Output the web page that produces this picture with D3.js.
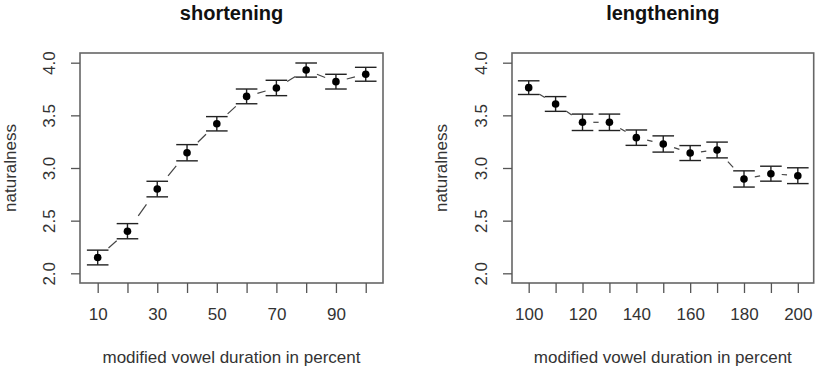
<!DOCTYPE html>
<html>
<head>
<meta charset="utf-8">
<script src="https://cdn.jsdelivr.net/npm/d3@7"></script>
<style>
  body { margin: 0; background: #fff; }
  text { font-family: "Liberation Sans", Arial, sans-serif; }
</style>
</head>
<body>
<div id="chart"></div>
<script>
// shortening panel
const shortX = [10, 20, 30, 40, 50, 60, 70, 80, 90, 100];
const shortMean = [2.15, 2.40, 2.80, 3.145, 3.42, 3.68, 3.76, 3.93, 3.82, 3.89];
const shortErr = [0.07, 0.072, 0.074, 0.077, 0.068, 0.07, 0.073, 0.067, 0.07, 0.066];
const shortTickLabels = [10, 30, 50, 70, 90];

// lengthening panel
const longX = [100, 110, 120, 130, 140, 150, 160, 170, 180, 190, 200];
const longMean = [3.763, 3.608, 3.434, 3.434, 3.288, 3.228, 3.142, 3.171, 2.896, 2.946, 2.927];
const longErr = [0.065, 0.07, 0.078, 0.078, 0.073, 0.077, 0.071, 0.075, 0.077, 0.071, 0.075];
const longTickLabels = [100, 120, 140, 160, 180, 200];

const yTicks = [2.0, 2.5, 3.0, 3.5, 4.0];

const width = 827, height = 372;
const svg = d3.select("#chart").append("svg")
    .attr("width", width)
    .attr("height", height);

function panel(opt) {
  const x = d3.scaleLinear().domain(opt.xdom).range([opt.left, opt.right]);
  const y = d3.scaleLinear().domain([1.908, 4.092]).range([283, 53]);
  const g = svg.append("g");
  const pts = opt.xs.map((v, i) => ({x: v, m: opt.mean[i], e: opt.err[i]}));
  const cap = 10.8;

  // box
  g.append("rect")
    .attr("x", opt.left).attr("y", 53)
    .attr("width", opt.right - opt.left).attr("height", 230)
    .attr("fill", "none").attr("stroke", "#666").attr("stroke-width", 1.6);

  // y axis
  const ya = g.append("g").attr("transform", `translate(${opt.left},0)`)
    .call(d3.axisLeft(y).tickValues(yTicks).tickSize(9).tickFormat(d3.format(".1f")));
  ya.select(".domain").remove();
  ya.selectAll(".tick line").attr("stroke", "#555").attr("stroke-width", 1.3);
  ya.selectAll(".tick text")
    .attr("x", 0).attr("dy", 0)
    .attr("transform", `translate(${opt.ylab - opt.left},0) rotate(-90)`)
    .attr("text-anchor", "middle")
    .attr("fill", "#333").style("font-size", "17px");

  // x axis
  const xa = g.append("g").attr("transform", "translate(0,283)")
    .call(d3.axisBottom(x).tickValues(opt.xs).tickSize(10)
      .tickFormat(d => opt.labels.includes(d) ? d : ""));
  xa.select(".domain").remove();
  xa.selectAll(".tick line").attr("stroke", "#555").attr("stroke-width", 1.3);
  xa.selectAll(".tick text").attr("y", 37).attr("dy", 0)
    .attr("fill", "#333").style("font-size", "17px");

  // connecting line, gapped at each error bar cap
  for (let i = 0; i < pts.length - 1; i++) {
    const a = pts[i], b = pts[i + 1];
    const x0 = x(a.x), x1 = x(b.x), y0 = y(a.m), y1 = y(b.m);
    const f = cap / (x1 - x0);
    g.append("line")
      .attr("x1", x0 + (x1 - x0) * f).attr("y1", y0 + (y1 - y0) * f)
      .attr("x2", x1 - (x1 - x0) * f).attr("y2", y1 - (y1 - y0) * f)
      .attr("stroke", "#444").attr("stroke-width", 1.2);
  }

  // error bars
  const eb = g.append("g").attr("stroke", "#222").attr("stroke-width", 1.4);
  eb.selectAll("line.v").data(pts).join("line").attr("class", "v")
    .attr("x1", d => x(d.x)).attr("x2", d => x(d.x))
    .attr("y1", d => y(d.m - d.e)).attr("y2", d => y(d.m + d.e));
  eb.selectAll("line.t").data(pts).join("line").attr("class", "t")
    .attr("x1", d => x(d.x) - cap).attr("x2", d => x(d.x) + cap)
    .attr("y1", d => y(d.m + d.e)).attr("y2", d => y(d.m + d.e));
  eb.selectAll("line.b").data(pts).join("line").attr("class", "b")
    .attr("x1", d => x(d.x) - cap).attr("x2", d => x(d.x) + cap)
    .attr("y1", d => y(d.m - d.e)).attr("y2", d => y(d.m - d.e));

  // means
  g.selectAll("circle").data(pts).join("circle")
    .attr("cx", d => x(d.x)).attr("cy", d => y(d.m))
    .attr("r", 3.8).attr("fill", "#000");

  // titles and labels
  const cx = (opt.left + opt.right) / 2;
  g.append("text").attr("x", cx).attr("y", 20)
    .attr("text-anchor", "middle").style("font-size", "20px")
    .style("font-weight", "bold").attr("fill", "#111").text(opt.title);
  g.append("text").attr("x", cx).attr("y", 363)
    .attr("text-anchor", "middle").style("font-size", "17px")
    .attr("fill", "#333").text("modified vowel duration in percent");
  g.append("text")
    .attr("transform", `translate(${opt.ytitle},168) rotate(-90)`)
    .attr("text-anchor", "middle").style("font-size", "17px")
    .attr("fill", "#333").text("naturalness");
}

panel({
  xs: shortX, mean: shortMean, err: shortErr, labels: shortTickLabels,
  xdom: [4.06, 105.8], left: 80, right: 383, ylab: 55, ytitle: 16,
  title: "shortening"
});
panel({
  xs: longX, mean: longMean, err: longErr, labels: longTickLabels,
  xdom: [93.8, 205.9], left: 512, right: 813.7, ylab: 487, ytitle: 447,
  title: "lengthening"
});
</script>
</body>
</html>
